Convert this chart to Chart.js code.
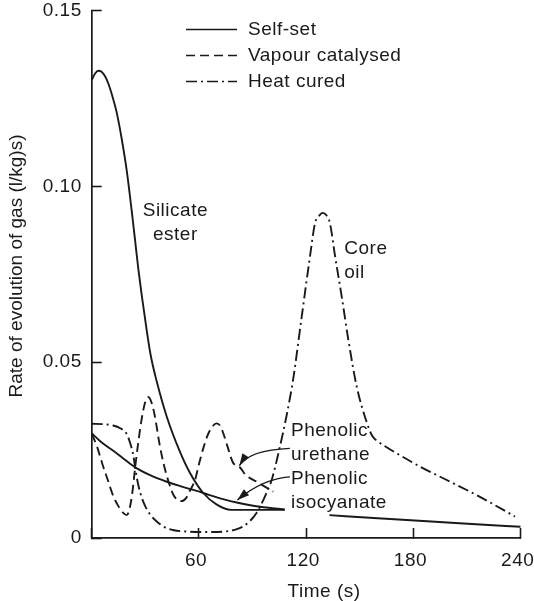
<!DOCTYPE html>
<html>
<head>
<meta charset="utf-8">
<script src="https://cdn.jsdelivr.net/npm/chart.js@4/dist/chart.umd.min.js"></script>
<style>
  html, body { margin: 0; padding: 0; background: #fff; }
  #wrap { position: relative; width: 534px; height: 601px; }
</style>
</head>
<body>
<div id="wrap"><canvas id="chart"></canvas></div>
<script>
/* global Chart */

const INK = '#1a1a1a'
const FONT = "'Liberation Sans', Arial, Helvetica, sans-serif"
const VAPOUR_DASH = [9, 5]
const HEAT_DASH = [11, 4, 2, 4]

// time (s) against rate of gas evolution ((l/kg)/s)
const silicateTime = [0, 2, 3.7, 5.5, 7.4, 9.5, 11.5, 14, 16.8, 19.6, 22.4, 24.2, 26.1, 28, 30.8, 33, 36.4, 42, 49.4, 55, 62.4, 70, 78, 108]
const silicateRate = [0.1303, 0.1322, 0.1329, 0.1326, 0.1314, 0.129, 0.1258, 0.121, 0.1135, 0.1045, 0.093, 0.085, 0.0765, 0.069, 0.059, 0.052, 0.0445, 0.0345, 0.0245, 0.0185, 0.0128, 0.0095, 0.008, 0.008]

// null at 120 s leaves the break under the label
const isocyanateTime = [0, 6, 12.1, 18, 24.3, 33, 42, 50, 58.7, 66, 74, 81.1, 88, 94.2, 101, 108, 120, 133, 160, 190, 215, 240]
const isocyanateRate = [0.0298, 0.027, 0.0248, 0.0225, 0.0201, 0.0178, 0.016, 0.0147, 0.0134, 0.0122, 0.011, 0.0101, 0.0094, 0.0089, 0.0085, 0.0081, null, 0.0065, 0.0056, 0.0047, 0.0039, 0.0032]

const urethaneTime = [0, 3, 6, 9, 12, 15, 17.5, 19.6, 21, 22.5, 24.3, 26, 28, 30, 31.6, 33.5, 35.2, 38.2, 40.3, 43, 46, 50.3, 53, 55, 57.8, 60, 62.4, 65, 67.5, 69.9, 72, 73.6, 76, 79.2, 82.6, 86, 92.3, 101.6]
const urethaneRate = [0.0296, 0.026, 0.021, 0.0165, 0.012, 0.009, 0.0072, 0.0065, 0.008, 0.012, 0.02, 0.027, 0.034, 0.0388, 0.0401, 0.0385, 0.035, 0.026, 0.021, 0.016, 0.012, 0.0105, 0.0115, 0.0135, 0.0165, 0.021, 0.0255, 0.0294, 0.0317, 0.0326, 0.0318, 0.0298, 0.026, 0.0213, 0.0203, 0.018, 0.016, 0.0132]

const coreOilTime = [0, 6, 12, 16, 19.6, 21.5, 23.3, 24.3, 26.1, 28, 30, 33, 36.4, 41, 46, 55, 65, 75.5, 80, 84.8, 88.5, 92.3, 94.2, 97.5, 100.7, 105.3, 109.1, 112.8, 117.5, 122.1, 124.9, 127, 129.2, 131.3, 133.3, 136.2, 139.9, 143.6, 148.3, 153.8, 157, 160, 165, 170.6, 183.7, 198.6, 217.2, 236.8]
const coreOilRate = [0.0325, 0.0324, 0.032, 0.0312, 0.0296, 0.027, 0.0235, 0.02, 0.015, 0.0115, 0.009, 0.0065, 0.0047, 0.003, 0.0022, 0.0018, 0.0017, 0.0019, 0.0023, 0.0033, 0.0048, 0.0072, 0.0089, 0.0125, 0.0165, 0.026, 0.035, 0.0455, 0.063, 0.08, 0.0895, 0.0915, 0.0925, 0.0918, 0.0895, 0.08, 0.0686, 0.0563, 0.043, 0.033, 0.029, 0.0275, 0.0258, 0.0241, 0.0203, 0.0165, 0.0117, 0.0061]

const xTickLabels = ['', '60', '120', '180', '240']
const yTickLabels = ['0', '0.05', '0.10', '0.15']

const legendItems = [
  { text: 'Self-set', dash: [] },
  { text: 'Vapour catalysed', dash: VAPOUR_DASH },
  { text: 'Heat cured', dash: HEAT_DASH }
]

// curve names, anchored in data units
const notes = [
  { lines: ['Silicate', 'ester'], x: 46.8, y: 0.0931, align: 'center' },
  { lines: ['Core', 'oil'], x: 141.3, y: 0.0824, align: 'left' },
  { lines: ['Phenolic', 'urethane', 'Phenolic', 'isocyanate'], x: 111.5, y: 0.0304, align: 'left' }
]

const arrows = [
  { from: [110.9, 0.0255], via: [88.1, 0.025], to: [82.6, 0.0206] },
  { from: [110.9, 0.0174], via: [95.3, 0.0168], to: [81.5, 0.0108] }
]

const pts = (xs, ys) => xs.map((x, i) => ({ x, y: ys[i] }))

const curve = (label, xs, ys, dash) => ({
  label,
  data: pts(xs, ys),
  borderColor: INK,
  borderWidth: 1.9,
  borderDash: dash,
  pointRadius: 0,
  fill: false,
  spanGaps: false,
  cubicInterpolationMode: 'monotone'
})

const extras = {
  id: 'extras',
  beforeDraw (chart) {
    chart.ctx.letterSpacing = '0.5px'
  },
  afterDraw (chart) {
    const { ctx, scales: { x, y } } = chart
    ctx.save()
    ctx.fillStyle = INK
    ctx.strokeStyle = INK
    ctx.font = '19px ' + FONT

    // legend
    ctx.textAlign = 'left'
    ctx.textBaseline = 'middle'
    legendItems.forEach((item, i) => {
      const ly = 29.5 + i * 26
      ctx.lineWidth = 1.6
      ctx.setLineDash(item.dash)
      ctx.beginPath()
      ctx.moveTo(186, ly)
      ctx.lineTo(237, ly)
      ctx.stroke()
      ctx.fillText(item.text, 248, ly)
    })
    ctx.setLineDash([])

    // curve names
    notes.forEach(n => {
      ctx.textAlign = n.align
      const px = x.getPixelForValue(n.x)
      const py = y.getPixelForValue(n.y)
      n.lines.forEach((t, i) => ctx.fillText(t, px, py + i * 24))
    })

    // pointer arrows
    arrows.forEach(a => {
      const p0 = [x.getPixelForValue(a.from[0]), y.getPixelForValue(a.from[1])]
      const p1 = [x.getPixelForValue(a.via[0]), y.getPixelForValue(a.via[1])]
      const p2 = [x.getPixelForValue(a.to[0]), y.getPixelForValue(a.to[1])]
      ctx.lineWidth = 1.4
      ctx.beginPath()
      ctx.moveTo(p0[0], p0[1])
      ctx.quadraticCurveTo(p1[0], p1[1], p2[0], p2[1])
      ctx.stroke()
      const ang = Math.atan2(p2[1] - p1[1], p2[0] - p1[0])
      const len = 12
      const hw = 4
      const bx = p2[0] - Math.cos(ang) * len
      const by = p2[1] - Math.sin(ang) * len
      ctx.beginPath()
      ctx.moveTo(p2[0], p2[1])
      ctx.lineTo(bx + Math.sin(ang) * hw, by - Math.cos(ang) * hw)
      ctx.lineTo(bx - Math.sin(ang) * hw, by + Math.cos(ang) * hw)
      ctx.closePath()
      ctx.fill()
    })

    // axis titles
    ctx.textAlign = 'center'
    ctx.fillText('Time (s)', x.getPixelForValue(130), 592)
    ctx.letterSpacing = '0px'
    ctx.translate(17, 266)
    ctx.rotate(-Math.PI / 2)
    ctx.fillText('Rate of evolution of gas (l/kg)s)', 0, 0)
    ctx.restore()
  }
}

const tickFont = { family: FONT, size: 19 }

new Chart(document.getElementById('chart'), {
  type: 'line',
  data: {
    datasets: [
      curve('Silicate ester', silicateTime, silicateRate, []),
      curve('Phenolic isocyanate', isocyanateTime, isocyanateRate, []),
      curve('Phenolic urethane', urethaneTime, urethaneRate, VAPOUR_DASH),
      curve('Core oil', coreOilTime, coreOilRate, HEAT_DASH)
    ]
  },
  options: {
    responsive: true,
    maintainAspectRatio: false,
    animation: false,
    layout: { padding: 0 },
    plugins: { legend: { display: false }, tooltip: { enabled: false } },
    scales: {
      x: {
        type: 'linear',
        min: 0,
        max: 240,
        afterFit (s) {
          s.height = 63
          s.paddingLeft = 0
          s.paddingRight = 13.3
        },
        border: { display: true, color: INK, width: 1.7 },
        grid: { display: true, drawOnChartArea: false, drawTicks: true, tickLength: -10, tickColor: INK, tickWidth: 1.6 },
        ticks: {
          stepSize: 60,
          color: INK,
          font: tickFont,
          padding: 21,
          labelOffset: -3,
          maxRotation: 0,
          callback: (v, i) => xTickLabels[i]
        }
      },
      y: {
        min: 0,
        max: 0.15,
        afterFit (s) {
          s.width = 91.7
          s.paddingTop = 10.7
          s.paddingBottom = 0
        },
        border: { display: true, color: INK, width: 1.7 },
        grid: { display: true, drawOnChartArea: false, drawTicks: true, tickLength: -10, tickColor: INK, tickWidth: 1.6 },
        ticks: {
          stepSize: 0.05,
          color: INK,
          font: tickFont,
          padding: 20,
          callback: (v, i) => yTickLabels[i]
        }
      }
    }
  },
  plugins: [extras]
})
</script>
</body>
</html>
